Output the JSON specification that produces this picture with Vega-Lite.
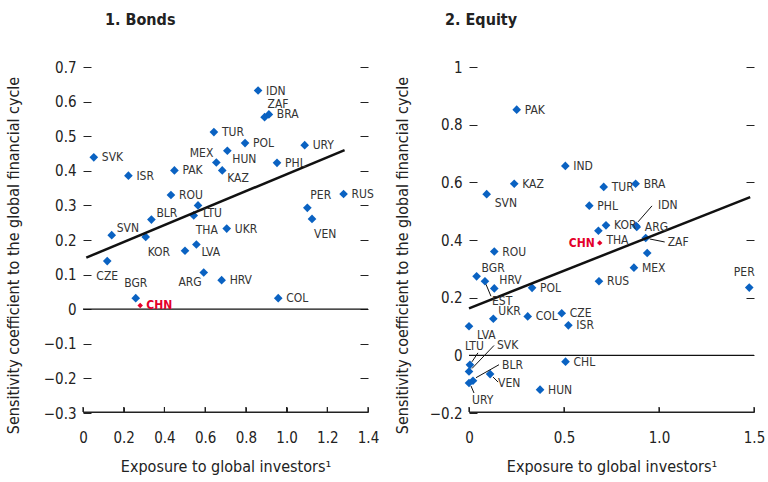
{
  "$schema": "https://vega.github.io/schema/vega-lite/v6.json",
  "padding": {"left": 5, "top": 12, "right": 5, "bottom": 5},
  "background": "white",
  "config": {
    "view": {"stroke": null},
    "font": "DejaVu Sans Condensed, Liberation Sans, sans-serif",
    "axis": {"labelFont": "DejaVu Sans Condensed, Liberation Sans, sans-serif", "labelFontSize": 15, "labelColor": "#222", "titleFont": "DejaVu Sans Condensed, Liberation Sans, sans-serif", "titleFontSize": 16, "titleFontWeight": "normal", "titleColor": "#222", "tickColor": "#222", "domainColor": "#222", "grid": false, "labelFlush": false},
    "title": {"font": "DejaVu Sans Condensed, Liberation Sans, sans-serif", "fontSize": 16, "fontWeight": "bold", "anchor": "start", "frame": "group", "color": "#222"},
    "text": {"font": "DejaVu Sans Condensed, Liberation Sans, sans-serif", "fontSize": 12, "color": "#333", "baseline": "middle", "align": "left"}
  },
  "datasets": {
    "bonds": [
      {"country": "IDN", "x": 0.86, "y": 0.632},
      {"country": "BRA", "x": 0.913, "y": 0.563},
      {"country": "ZAF", "x": 0.892, "y": 0.555},
      {"country": "TUR", "x": 0.643, "y": 0.512},
      {"country": "POL", "x": 0.796, "y": 0.48},
      {"country": "URY", "x": 1.089, "y": 0.474},
      {"country": "SVK", "x": 0.053, "y": 0.439},
      {"country": "HUN", "x": 0.709, "y": 0.458},
      {"country": "MEX", "x": 0.655, "y": 0.424},
      {"country": "PHL", "x": 0.953, "y": 0.423},
      {"country": "KAZ", "x": 0.684, "y": 0.401},
      {"country": "PAK", "x": 0.449, "y": 0.401},
      {"country": "ISR", "x": 0.223, "y": 0.386},
      {"country": "ROU", "x": 0.432, "y": 0.33},
      {"country": "RUS", "x": 1.28, "y": 0.333},
      {"country": "LTU", "x": 0.565, "y": 0.3},
      {"country": "PER", "x": 1.102, "y": 0.293},
      {"country": "THA", "x": 0.544, "y": 0.271},
      {"country": "BLR", "x": 0.336, "y": 0.259},
      {"country": "VEN", "x": 1.125, "y": 0.261},
      {"country": "UKR", "x": 0.706, "y": 0.233},
      {"country": "SVN", "x": 0.141, "y": 0.214},
      {"country": "KOR", "x": 0.308, "y": 0.209},
      {"country": "LVA", "x": 0.557, "y": 0.187},
      {"country": "", "x": 0.501, "y": 0.169},
      {"country": "CZE", "x": 0.119, "y": 0.139},
      {"country": "ARG", "x": 0.593, "y": 0.106},
      {"country": "HRV", "x": 0.681, "y": 0.084},
      {"country": "BGR", "x": 0.259, "y": 0.032},
      {"country": "CHN", "x": 0.281, "y": 0.011},
      {"country": "COL", "x": 0.959, "y": 0.032}
    ],
    "equity": [
      {"country": "PAK", "x": 0.251, "y": 0.852},
      {"country": "IND", "x": 0.507, "y": 0.657},
      {"country": "KAZ", "x": 0.238, "y": 0.595},
      {"country": "SVN", "x": 0.093, "y": 0.559},
      {"country": "TUR", "x": 0.709, "y": 0.584},
      {"country": "BRA", "x": 0.877, "y": 0.595},
      {"country": "PHL", "x": 0.633, "y": 0.519},
      {"country": "KOR", "x": 0.721, "y": 0.451},
      {"country": "IDN", "x": 0.879, "y": 0.449},
      {"country": "ARG", "x": 0.883, "y": 0.445},
      {"country": "THA", "x": 0.681, "y": 0.432},
      {"country": "CHN", "x": 0.688, "y": 0.39},
      {"country": "ZAF", "x": 0.93, "y": 0.407},
      {"country": "", "x": 0.938, "y": 0.355},
      {"country": "ROU", "x": 0.133, "y": 0.36},
      {"country": "BGR", "x": 0.04, "y": 0.274},
      {"country": "EST", "x": 0.084, "y": 0.257},
      {"country": "HRV", "x": 0.133, "y": 0.232},
      {"country": "POL", "x": 0.332, "y": 0.234},
      {"country": "MEX", "x": 0.868, "y": 0.304},
      {"country": "RUS", "x": 0.684, "y": 0.257},
      {"country": "PER", "x": 1.475, "y": 0.235},
      {"country": "UKR", "x": 0.128, "y": 0.127},
      {"country": "COL", "x": 0.309, "y": 0.135},
      {"country": "CZE", "x": 0.488, "y": 0.146},
      {"country": "ISR", "x": 0.523, "y": 0.104},
      {"country": "LVA", "x": 0.0, "y": 0.101},
      {"country": "LTU", "x": 0.005, "y": -0.033},
      {"country": "SVK", "x": 0.0, "y": -0.056},
      {"country": "BLR", "x": 0.021, "y": -0.088},
      {"country": "URY", "x": 0.0, "y": -0.096},
      {"country": "VEN", "x": 0.111, "y": -0.065},
      {"country": "CHL", "x": 0.508, "y": -0.022},
      {"country": "HUN", "x": 0.374, "y": -0.119}
    ],
    "bondsFit": [{"x": 0.016, "y": 0.149}, {"x": 1.285, "y": 0.46}],
    "equityFit": [{"x": 0.0, "y": 0.163}, {"x": 1.48, "y": 0.549}],
    "bondsTicks": [{"t": 0}, {"t": 0.2}, {"t": 0.4}, {"t": 0.6}, {"t": 0.8}, {"t": 1.0}, {"t": 1.2}, {"t": 1.4}],
    "equityTicks": [{"t": 0}, {"t": 0.5}, {"t": 1.0}, {"t": 1.5}]
  },
  "bounds": "flush",
  "spacing": 101,
  "hconcat": [
    {
      "width": 285,
      "height": 346,
      "title": {"text": "1. Bonds", "dx": 22, "offset": 32},
      "resolve": {"axis": {"y": "independent"}},
      "layer": [
        {
          "data": {"name": "bonds"},
          "transform": [{"filter": "datum.country != 'CHN'"}],
          "mark": {"type": "point", "shape": "diamond", "filled": true, "size": 75, "color": "#0a62c2", "opacity": 1},
          "encoding": {
            "x": {"field": "x", "type": "quantitative", "scale": {"domain": [0, 1.4], "nice": false, "zero": false}, "axis": {"values": [0, 0.2, 0.4, 0.6, 0.8, 1, 1.2, 1.4], "labelExpr": "datum.value == 0 ? '0' : format(datum.value, '.1f')", "domain": true, "ticks": true, "tickSize": -5, "offset": -1, "labelPadding": 23, "title": "Exposure to global investors¹", "titlePadding": 13}},
            "y": {"field": "y", "type": "quantitative", "scale": {"domain": [-0.3, 0.7], "nice": false, "zero": false}, "axis": {"values": [-0.3, -0.2, -0.1, 0, 0.1, 0.2, 0.3, 0.4, 0.5, 0.6, 0.7], "labelExpr": "abs(datum.value) < 1e-9 ? '0' : format(datum.value, '.1f')", "tickSize": -8, "domain": false, "labelPadding": 15, "title": "Sensitivity coefficient to the global financial cycle", "titlePadding": 22, "titleY": 188}}
          }
        },
        {
          "data": {"values": [{}]},
          "mark": {"type": "rule", "color": "#111", "strokeWidth": 1.3},
          "encoding": {"y": {"datum": 0, "type": "quantitative", "scale": {"domain": [-0.3, 0.7], "nice": false, "zero": false}, "axis": {"orient": "right", "labels": false, "domain": false, "tickSize": -8, "values": [-0.2, -0.1, 0, 0.1, 0.2, 0.3, 0.4, 0.5, 0.6, 0.7], "title": null}}}
        },
        {
          "data": {"values": [{}]},
          "mark": {"type": "rule", "color": "#222", "strokeWidth": 1.2, "yOffset": -1},
          "encoding": {"y": {"datum": -0.3, "type": "quantitative", "axis": null}}
        },
        {
          "data": {"name": "bondsTicks"},
          "mark": {"type": "rule", "color": "#222", "strokeWidth": 1.2, "yOffset": -1, "y2Offset": -6},
          "encoding": {"x": {"field": "t", "type": "quantitative"}, "y": {"datum": -0.3, "type": "quantitative", "axis": null}, "y2": {"datum": -0.3}}
        },
        {
          "data": {"name": "bondsFit"},
          "mark": {"type": "line", "color": "#111", "strokeWidth": 2.5},
          "encoding": {"x": {"field": "x", "type": "quantitative"}, "y": {"field": "y", "type": "quantitative", "axis": null}}
        },
        {
          "data": {"name": "bonds"},
          "transform": [{"filter": "datum.country == 'CHN'"}],
          "mark": {"type": "point", "shape": "diamond", "filled": true, "size": 30, "color": "#e4002b", "opacity": 1},
          "encoding": {"x": {"field": "x", "type": "quantitative"}, "y": {"field": "y", "type": "quantitative", "axis": null}}
        },
        {
          "data": {"name": "bonds"},
          "transform": [{"filter": {"field": "country", "oneOf": ["CHN"]}}],
          "mark": {"type": "text", "dx": 6, "color": "#e4002b", "fontWeight": "bold"},
          "encoding": {"x": {"field": "x", "type": "quantitative"}, "y": {"field": "y", "type": "quantitative", "axis": null}, "text": {"field": "country"}}
        },
        {
          "data": {"name": "bonds"},
          "transform": [{"filter": {"field": "country", "oneOf": ["IDN", "BRA", "TUR", "POL", "URY", "SVK", "PHL", "PAK", "ISR", "ROU", "RUS", "UKR", "HRV", "COL"]}}],
          "mark": {"type": "text", "dx": 8},
          "encoding": {"x": {"field": "x", "type": "quantitative"}, "y": {"field": "y", "type": "quantitative", "axis": null}, "text": {"field": "country"}}
        },
        {
          "data": {"name": "bonds"},
          "transform": [{"filter": {"field": "country", "oneOf": ["HUN", "KAZ", "LVA", "LTU"]}}],
          "mark": {"type": "text", "dx": 5, "dy": 8},
          "encoding": {"x": {"field": "x", "type": "quantitative"}, "y": {"field": "y", "type": "quantitative", "axis": null}, "text": {"field": "country"}}
        },
        {
          "data": {"name": "bonds"},
          "transform": [{"filter": {"field": "country", "oneOf": ["BLR", "SVN"]}}],
          "mark": {"type": "text", "dx": 5, "dy": -7},
          "encoding": {"x": {"field": "x", "type": "quantitative"}, "y": {"field": "y", "type": "quantitative", "axis": null}, "text": {"field": "country"}}
        },
        {
          "data": {"name": "bonds"},
          "transform": [{"filter": {"field": "country", "oneOf": ["ZAF", "PER"]}}],
          "mark": {"type": "text", "dx": 3, "dy": -13},
          "encoding": {"x": {"field": "x", "type": "quantitative"}, "y": {"field": "y", "type": "quantitative", "axis": null}, "text": {"field": "country"}}
        },
        {
          "data": {"name": "bonds"},
          "transform": [{"filter": {"field": "country", "oneOf": ["VEN", "KOR", "THA"]}}],
          "mark": {"type": "text", "dx": 2, "dy": 15},
          "encoding": {"x": {"field": "x", "type": "quantitative"}, "y": {"field": "y", "type": "quantitative", "axis": null}, "text": {"field": "country"}}
        },
        {
          "data": {"name": "bonds"},
          "transform": [{"filter": {"field": "country", "oneOf": ["CZE"]}}],
          "mark": {"type": "text", "align": "center", "dy": 15},
          "encoding": {"x": {"field": "x", "type": "quantitative"}, "y": {"field": "y", "type": "quantitative", "axis": null}, "text": {"field": "country"}}
        },
        {
          "data": {"name": "bonds"},
          "transform": [{"filter": {"field": "country", "oneOf": ["BGR"]}}],
          "mark": {"type": "text", "align": "center", "dy": -15},
          "encoding": {"x": {"field": "x", "type": "quantitative"}, "y": {"field": "y", "type": "quantitative", "axis": null}, "text": {"field": "country"}}
        },
        {
          "data": {"name": "bonds"},
          "transform": [{"filter": {"field": "country", "oneOf": ["MEX"]}}],
          "mark": {"type": "text", "align": "right", "dx": -3, "dy": -9},
          "encoding": {"x": {"field": "x", "type": "quantitative"}, "y": {"field": "y", "type": "quantitative", "axis": null}, "text": {"field": "country"}}
        },
        {
          "data": {"name": "bonds"},
          "transform": [{"filter": {"field": "country", "oneOf": ["ARG"]}}],
          "mark": {"type": "text", "align": "right", "dx": -2, "dy": 9},
          "encoding": {"x": {"field": "x", "type": "quantitative"}, "y": {"field": "y", "type": "quantitative", "axis": null}, "text": {"field": "country"}}
        }
      ]
    },
    {
      "width": 285,
      "height": 346,
      "title": {"text": "2. Equity", "dx": -24, "offset": 32},
      "resolve": {"axis": {"y": "independent"}},
      "layer": [
        {
          "data": {"name": "equity"},
          "transform": [{"filter": "datum.country != 'CHN'"}],
          "mark": {"type": "point", "shape": "diamond", "filled": true, "size": 75, "color": "#0a62c2", "opacity": 1},
          "encoding": {
            "x": {"field": "x", "type": "quantitative", "scale": {"domain": [0, 1.5], "nice": false, "zero": false}, "axis": {"values": [0, 0.5, 1, 1.5], "labelExpr": "datum.value == 0 ? '0' : format(datum.value, '.1f')", "domain": true, "ticks": true, "tickSize": -5, "offset": -1, "labelPadding": 23, "title": "Exposure to global investors¹", "titlePadding": 13}},
            "y": {"field": "y", "type": "quantitative", "scale": {"domain": [-0.2, 1.0], "nice": false, "zero": false}, "axis": {"values": [-0.2, 0, 0.2, 0.4, 0.6, 0.8, 1], "labelExpr": "abs(datum.value) < 1e-9 ? '0' : datum.value == 1 ? '1' : format(datum.value, '.1f')", "tickSize": -8, "domain": false, "labelPadding": 15, "title": "Sensitivity coefficient to the global financial cycle", "titlePadding": 19, "titleY": 188}}
          }
        },
        {
          "data": {"values": [{}]},
          "mark": {"type": "rule", "color": "#111", "strokeWidth": 1.3},
          "encoding": {"y": {"datum": 0, "type": "quantitative", "scale": {"domain": [-0.2, 1.0], "nice": false, "zero": false}, "axis": {"orient": "right", "labels": false, "domain": false, "tickSize": -8, "values": [0, 0.2, 0.4, 0.6, 0.8, 1], "title": null}}}
        },
        {
          "data": {"values": [{}]},
          "mark": {"type": "rule", "color": "#222", "strokeWidth": 1.2, "yOffset": -1},
          "encoding": {"y": {"datum": -0.2, "type": "quantitative", "axis": null}}
        },
        {
          "data": {"name": "equityTicks"},
          "mark": {"type": "rule", "color": "#222", "strokeWidth": 1.2, "yOffset": -1, "y2Offset": -6},
          "encoding": {"x": {"field": "t", "type": "quantitative"}, "y": {"datum": -0.2, "type": "quantitative", "axis": null}, "y2": {"datum": -0.2}}
        },
        {
          "data": {"name": "equityFit"},
          "mark": {"type": "line", "color": "#111", "strokeWidth": 2.5},
          "encoding": {"x": {"field": "x", "type": "quantitative"}, "y": {"field": "y", "type": "quantitative", "axis": null}}
        },
        {
          "data": {"name": "equity"},
          "transform": [{"filter": {"field": "country", "oneOf": ["IDN"]}}],
          "mark": {"type": "rule", "color": "#111", "strokeWidth": 1, "xOffset": 2, "yOffset": -4, "x2Offset": 16, "y2Offset": -20},
          "encoding": {"x": {"field": "x", "type": "quantitative"}, "y": {"field": "y", "type": "quantitative", "axis": null}, "x2": {"field": "x"}, "y2": {"field": "y"}}
        },
        {
          "data": {"name": "equity"},
          "transform": [{"filter": {"field": "country", "oneOf": ["ZAF"]}}],
          "mark": {"type": "rule", "color": "#111", "strokeWidth": 1, "xOffset": 4, "yOffset": 1, "x2Offset": 19, "y2Offset": 4},
          "encoding": {"x": {"field": "x", "type": "quantitative"}, "y": {"field": "y", "type": "quantitative", "axis": null}, "x2": {"field": "x"}, "y2": {"field": "y"}}
        },
        {
          "data": {"name": "equity"},
          "transform": [{"filter": "datum.country == ''"}],
          "mark": {"type": "rule", "color": "#111", "strokeWidth": 1, "xOffset": 2, "yOffset": -4, "x2Offset": 5, "y2Offset": -12},
          "encoding": {"x": {"field": "x", "type": "quantitative"}, "y": {"field": "y", "type": "quantitative", "axis": null}, "x2": {"field": "x"}, "y2": {"field": "y"}}
        },
        {
          "data": {"name": "equity"},
          "transform": [{"filter": {"field": "country", "oneOf": ["EST"]}}],
          "mark": {"type": "rule", "color": "#111", "strokeWidth": 1, "xOffset": 1, "yOffset": 3, "x2Offset": 6, "y2Offset": 15},
          "encoding": {"x": {"field": "x", "type": "quantitative"}, "y": {"field": "y", "type": "quantitative", "axis": null}, "x2": {"field": "x"}, "y2": {"field": "y"}}
        },
        {
          "data": {"name": "equity"},
          "transform": [{"filter": {"field": "country", "oneOf": ["LTU"]}}],
          "mark": {"type": "rule", "color": "#111", "strokeWidth": 1, "xOffset": 2, "yOffset": -3, "x2Offset": 8, "y2Offset": -12},
          "encoding": {"x": {"field": "x", "type": "quantitative"}, "y": {"field": "y", "type": "quantitative", "axis": null}, "x2": {"field": "x"}, "y2": {"field": "y"}}
        },
        {
          "data": {"name": "equity"},
          "transform": [{"filter": {"field": "country", "oneOf": ["SVK"]}}],
          "mark": {"type": "rule", "color": "#111", "strokeWidth": 1, "xOffset": 3, "yOffset": -3, "x2Offset": 25, "y2Offset": -26},
          "encoding": {"x": {"field": "x", "type": "quantitative"}, "y": {"field": "y", "type": "quantitative", "axis": null}, "x2": {"field": "x"}, "y2": {"field": "y"}}
        },
        {
          "data": {"name": "equity"},
          "transform": [{"filter": {"field": "country", "oneOf": ["BLR"]}}],
          "mark": {"type": "rule", "color": "#111", "strokeWidth": 1, "xOffset": 3, "yOffset": -3, "x2Offset": 26, "y2Offset": -16},
          "encoding": {"x": {"field": "x", "type": "quantitative"}, "y": {"field": "y", "type": "quantitative", "axis": null}, "x2": {"field": "x"}, "y2": {"field": "y"}}
        },
        {
          "data": {"name": "equity"},
          "transform": [{"filter": {"field": "country", "oneOf": ["URY"]}}],
          "mark": {"type": "rule", "color": "#111", "strokeWidth": 1, "xOffset": 2, "yOffset": 3, "x2Offset": 5, "y2Offset": 10},
          "encoding": {"x": {"field": "x", "type": "quantitative"}, "y": {"field": "y", "type": "quantitative", "axis": null}, "x2": {"field": "x"}, "y2": {"field": "y"}}
        },
        {
          "data": {"name": "equity"},
          "transform": [{"filter": {"field": "country", "oneOf": ["VEN"]}}],
          "mark": {"type": "rule", "color": "#111", "strokeWidth": 1, "xOffset": 3, "yOffset": 3, "x2Offset": 8, "y2Offset": 8},
          "encoding": {"x": {"field": "x", "type": "quantitative"}, "y": {"field": "y", "type": "quantitative", "axis": null}, "x2": {"field": "x"}, "y2": {"field": "y"}}
        },
        {
          "data": {"name": "equity"},
          "transform": [{"filter": "datum.country == 'CHN'"}],
          "mark": {"type": "point", "shape": "diamond", "filled": true, "size": 30, "color": "#e4002b", "opacity": 1},
          "encoding": {"x": {"field": "x", "type": "quantitative"}, "y": {"field": "y", "type": "quantitative", "axis": null}}
        },
        {
          "data": {"name": "equity"},
          "transform": [{"filter": {"field": "country", "oneOf": ["CHN"]}}],
          "mark": {"type": "text", "align": "right", "dx": -5, "color": "#e4002b", "fontWeight": "bold"},
          "encoding": {"x": {"field": "x", "type": "quantitative"}, "y": {"field": "y", "type": "quantitative", "axis": null}, "text": {"field": "country"}}
        },
        {
          "data": {"name": "equity"},
          "transform": [{"filter": {"field": "country", "oneOf": ["PAK", "IND", "KAZ", "BRA", "PHL", "ARG", "ROU", "POL", "MEX", "RUS", "COL", "CZE", "ISR", "CHL", "HUN", "TUR", "KOR"]}}],
          "mark": {"type": "text", "dx": 8},
          "encoding": {"x": {"field": "x", "type": "quantitative"}, "y": {"field": "y", "type": "quantitative", "axis": null}, "text": {"field": "country"}}
        },
        {
          "data": {"name": "equity"},
          "transform": [{"filter": {"field": "country", "oneOf": ["SVN", "THA", "VEN", "LVA"]}}],
          "mark": {"type": "text", "dx": 8, "dy": 9},
          "encoding": {"x": {"field": "x", "type": "quantitative"}, "y": {"field": "y", "type": "quantitative", "axis": null}, "text": {"field": "country"}}
        },
        {
          "data": {"name": "equity"},
          "transform": [{"filter": {"field": "country", "oneOf": ["BGR", "HRV", "UKR"]}}],
          "mark": {"type": "text", "dx": 5, "dy": -8},
          "encoding": {"x": {"field": "x", "type": "quantitative"}, "y": {"field": "y", "type": "quantitative", "axis": null}, "text": {"field": "country"}}
        },
        {
          "data": {"name": "equity"},
          "transform": [{"filter": {"field": "country", "oneOf": ["PER"]}}],
          "mark": {"type": "text", "align": "center", "dx": -5, "dy": -16},
          "encoding": {"x": {"field": "x", "type": "quantitative"}, "y": {"field": "y", "type": "quantitative", "axis": null}, "text": {"field": "country"}}
        },
        {
          "data": {"name": "equity"},
          "transform": [{"filter": {"field": "country", "oneOf": ["IDN"]}}],
          "mark": {"type": "text", "dx": 22, "dy": -21},
          "encoding": {"x": {"field": "x", "type": "quantitative"}, "y": {"field": "y", "type": "quantitative", "axis": null}, "text": {"field": "country"}}
        },
        {
          "data": {"name": "equity"},
          "transform": [{"filter": {"field": "country", "oneOf": ["ZAF"]}}],
          "mark": {"type": "text", "dx": 22, "dy": 4},
          "encoding": {"x": {"field": "x", "type": "quantitative"}, "y": {"field": "y", "type": "quantitative", "axis": null}, "text": {"field": "country"}}
        },
        {
          "data": {"name": "equity"},
          "transform": [{"filter": {"field": "country", "oneOf": ["EST"]}}],
          "mark": {"type": "text", "dx": 7, "dy": 20},
          "encoding": {"x": {"field": "x", "type": "quantitative"}, "y": {"field": "y", "type": "quantitative", "axis": null}, "text": {"field": "country"}}
        },
        {
          "data": {"name": "equity"},
          "transform": [{"filter": {"field": "country", "oneOf": ["LTU"]}}],
          "mark": {"type": "text", "dx": -5, "dy": -19},
          "encoding": {"x": {"field": "x", "type": "quantitative"}, "y": {"field": "y", "type": "quantitative", "axis": null}, "text": {"field": "country"}}
        },
        {
          "data": {"name": "equity"},
          "transform": [{"filter": {"field": "country", "oneOf": ["SVK"]}}],
          "mark": {"type": "text", "dx": 28, "dy": -26},
          "encoding": {"x": {"field": "x", "type": "quantitative"}, "y": {"field": "y", "type": "quantitative", "axis": null}, "text": {"field": "country"}}
        },
        {
          "data": {"name": "equity"},
          "transform": [{"filter": {"field": "country", "oneOf": ["BLR"]}}],
          "mark": {"type": "text", "dx": 29, "dy": -16},
          "encoding": {"x": {"field": "x", "type": "quantitative"}, "y": {"field": "y", "type": "quantitative", "axis": null}, "text": {"field": "country"}}
        },
        {
          "data": {"name": "equity"},
          "transform": [{"filter": {"field": "country", "oneOf": ["URY"]}}],
          "mark": {"type": "text", "dx": 3, "dy": 17},
          "encoding": {"x": {"field": "x", "type": "quantitative"}, "y": {"field": "y", "type": "quantitative", "axis": null}, "text": {"field": "country"}}
        }
      ]
    }
  ]
}
